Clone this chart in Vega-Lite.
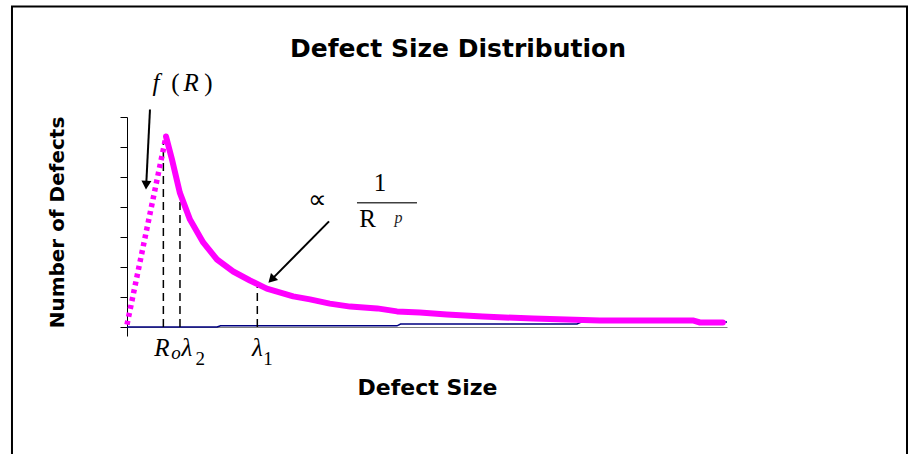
{
  "$schema": "https://vega.github.io/schema/vega-lite/v6.json",
  "width": 600,
  "height": 210,
  "autosize": {"type": "none"},
  "padding": {"left": 127, "top": 117, "right": 182, "bottom": 127},
  "background": "white",
  "title": {
    "text": "Defect Size Distribution",
    "font": "DejaVu Sans",
    "fontSize": 25,
    "fontWeight": "bold",
    "color": "black",
    "anchor": "middle",
    "baseline": "alphabetic",
    "offset": -76,
    "dx": 31
  },
  "config": {"view": {"stroke": null}, "axis": {"grid": false}},
  "datasets": {
    "frame": [{"x": -19.17, "x2": 130, "y": 10.68, "y2": -4.75}],
    "blue": [
      {"x": 0, "y": 0.0},
      {"x": 15, "y": 0.0},
      {"x": 15.6, "y": 0.04},
      {"x": 45, "y": 0.04},
      {"x": 45.6, "y": 0.1},
      {"x": 75, "y": 0.1},
      {"x": 75.8, "y": 0.17},
      {"x": 100, "y": 0.17}
    ],
    "rise": [
      {"x": 0, "y": 0.08},
      {"x": 6.5, "y": 6.35}
    ],
    "decay": [
      {"x": 6.5, "y": 6.35},
      {"x": 7.5, "y": 5.58},
      {"x": 8.8, "y": 4.48},
      {"x": 10.5, "y": 3.58},
      {"x": 12.7, "y": 2.82},
      {"x": 15, "y": 2.25},
      {"x": 17.7, "y": 1.85},
      {"x": 20.5, "y": 1.55},
      {"x": 23.3, "y": 1.28},
      {"x": 27.7, "y": 1.02},
      {"x": 30.5, "y": 0.92},
      {"x": 33.8, "y": 0.78},
      {"x": 37.2, "y": 0.68},
      {"x": 41.7, "y": 0.62},
      {"x": 45, "y": 0.52},
      {"x": 48.8, "y": 0.48},
      {"x": 53.3, "y": 0.42},
      {"x": 59.3, "y": 0.35},
      {"x": 67.7, "y": 0.28},
      {"x": 78.8, "y": 0.22},
      {"x": 94.3, "y": 0.22},
      {"x": 95.5, "y": 0.15},
      {"x": 99.3, "y": 0.15}
    ],
    "marks": [
      {"name": "Ro", "x": 6.06, "y": 0, "y2": 6.15},
      {"name": "lambda2", "x": 8.83, "y": 0, "y2": 4.5},
      {"name": "lambda1", "x": 21.72, "y": 0, "y2": 1.35}
    ],
    "arrows": [
      {"id": "fR", "x": 3.83, "y": 7.25, "x2": 3.2, "y2": 4.73},
      {"id": "power", "x": 33.67, "y": 3.52, "x2": 24.08, "y2": 1.58}
    ],
    "fraction": [{"x": 38.33, "x2": 48.33, "y": 4.14}],
    "notes": [
      {"role": "math", "x": 4.83, "y": 7.88, "t": "f"},
      {"role": "math", "x": 10.67, "y": 7.88, "t": "R"},
      {"role": "math", "x": 5.83, "y": -0.98, "t": "R"},
      {"role": "math", "x": 10.0, "y": -0.98, "t": "λ"},
      {"role": "math", "x": 21.75, "y": -0.98, "t": "λ"},
      {"role": "upright", "x": 8.08, "y": 7.88, "t": "("},
      {"role": "upright", "x": 13.58, "y": 7.88, "t": ")"},
      {"role": "upright", "x": 42.17, "y": 4.52, "t": "1"},
      {"role": "upright", "x": 40.08, "y": 3.35, "t": "R"},
      {"role": "subi", "x": 8.17, "y": -1.05, "t": "o"},
      {"role": "sub", "x": 12.2, "y": -1.25, "t": "2"},
      {"role": "sub", "x": 23.5, "y": -1.25, "t": "1"},
      {"role": "prop", "x": 31.75, "y": 3.98, "t": "∝"},
      {"role": "exp", "x": 45.25, "y": 3.48, "t": "p"}
    ]
  },
  "layer": [
    {
      "data": {"name": "blue"},
      "mark": {"type": "line", "color": "#000080", "strokeWidth": 1.5},
      "encoding": {
        "x": {
          "field": "x",
          "type": "quantitative",
          "scale": {"domain": [0, 100], "nice": false, "zero": false},
          "axis": {
            "values": [0],
            "tickSize": 9,
            "tickColor": "black",
            "labels": false,
            "domainColor": "#808080",
            "title": "Defect Size",
            "titleFont": "DejaVu Sans",
            "titleFontSize": 22,
            "titleFontWeight": "bold",
            "titleColor": "black",
            "titleBaseline": "alphabetic",
            "titleY": 67,
            "grid": false
          }
        },
        "y": {
          "field": "y",
          "type": "quantitative",
          "scale": {"domain": [0, 7], "nice": false},
          "axis": {
            "values": [0, 1, 2, 3, 4, 5, 6, 7],
            "tickCount": 8,
            "tickSize": 7,
            "tickColor": "black",
            "labels": false,
            "domainColor": "black",
            "title": "Number of Defects",
            "titleFont": "DejaVu Sans",
            "titleFontSize": 20,
            "titleFontWeight": "bold",
            "titleColor": "black",
            "titleBaseline": "alphabetic",
            "titleX": -64,
            "titleY": 105,
            "grid": false
          }
        }
      }
    },
    {
      "data": {"name": "frame"},
      "mark": {"type": "rect", "filled": false, "color": "black", "strokeWidth": 2},
      "encoding": {
        "x": {"field": "x", "type": "quantitative"},
        "x2": {"field": "x2"},
        "y": {"field": "y", "type": "quantitative"},
        "y2": {"field": "y2"}
      }
    },
    {
      "data": {"name": "marks"},
      "mark": {"type": "rule", "color": "black", "strokeWidth": 1.5, "strokeDash": [8, 5]},
      "encoding": {
        "x": {"field": "x", "type": "quantitative"},
        "y": {"field": "y", "type": "quantitative"},
        "y2": {"field": "y2"}
      }
    },
    {
      "data": {"name": "rise"},
      "mark": {"type": "line", "color": "#FF00FF", "strokeWidth": 5.5, "strokeDash": [4, 4], "strokeCap": "butt"},
      "encoding": {
        "x": {"field": "x", "type": "quantitative"},
        "y": {"field": "y", "type": "quantitative"}
      }
    },
    {
      "data": {"name": "decay"},
      "mark": {"type": "line", "color": "#FF00FF", "strokeWidth": 6, "strokeCap": "round", "strokeJoin": "round"},
      "encoding": {
        "x": {"field": "x", "type": "quantitative"},
        "y": {"field": "y", "type": "quantitative"}
      }
    },
    {
      "data": {"name": "arrows"},
      "mark": {"type": "rule", "color": "black", "strokeWidth": 2},
      "encoding": {
        "x": {"field": "x", "type": "quantitative"},
        "y": {"field": "y", "type": "quantitative"},
        "x2": {"field": "x2"},
        "y2": {"field": "y2"}
      }
    },
    {
      "data": {"name": "arrows"},
      "transform": [{"filter": "datum.id === 'fR'"}],
      "mark": {"type": "point", "shape": "triangle-up", "filled": true, "color": "black", "size": 100, "angle": 183, "opacity": 1},
      "encoding": {
        "x": {"field": "x2", "type": "quantitative"},
        "y": {"field": "y2", "type": "quantitative"}
      }
    },
    {
      "data": {"name": "arrows"},
      "transform": [{"filter": "datum.id === 'power'"}],
      "mark": {"type": "point", "shape": "triangle-up", "filled": true, "color": "black", "size": 100, "angle": 224.6, "opacity": 1},
      "encoding": {
        "x": {"field": "x2", "type": "quantitative"},
        "y": {"field": "y2", "type": "quantitative"}
      }
    },
    {
      "data": {"name": "fraction"},
      "mark": {"type": "rule", "color": "#404040", "strokeWidth": 1.5},
      "encoding": {
        "x": {"field": "x", "type": "quantitative"},
        "x2": {"field": "x2"},
        "y": {"field": "y", "type": "quantitative"}
      }
    },
    {
      "data": {"name": "notes"},
      "transform": [{"filter": "datum.role === 'math'"}],
      "mark": {"type": "text", "font": "Liberation Serif", "fontSize": 25, "fontStyle": "italic", "align": "center", "baseline": "alphabetic", "color": "black"},
      "encoding": {
        "x": {"field": "x", "type": "quantitative"},
        "y": {"field": "y", "type": "quantitative"},
        "text": {"field": "t"}
      }
    },
    {
      "data": {"name": "notes"},
      "transform": [{"filter": "datum.role === 'upright'"}],
      "mark": {"type": "text", "font": "Liberation Serif", "fontSize": 25, "align": "center", "baseline": "alphabetic", "color": "black"},
      "encoding": {
        "x": {"field": "x", "type": "quantitative"},
        "y": {"field": "y", "type": "quantitative"},
        "text": {"field": "t"}
      }
    },
    {
      "data": {"name": "notes"},
      "transform": [{"filter": "datum.role === 'subi'"}],
      "mark": {"type": "text", "font": "Liberation Serif", "fontSize": 19, "fontStyle": "italic", "align": "center", "baseline": "alphabetic", "color": "black"},
      "encoding": {
        "x": {"field": "x", "type": "quantitative"},
        "y": {"field": "y", "type": "quantitative"},
        "text": {"field": "t"}
      }
    },
    {
      "data": {"name": "notes"},
      "transform": [{"filter": "datum.role === 'sub'"}],
      "mark": {"type": "text", "font": "Liberation Serif", "fontSize": 19, "align": "center", "baseline": "alphabetic", "color": "black"},
      "encoding": {
        "x": {"field": "x", "type": "quantitative"},
        "y": {"field": "y", "type": "quantitative"},
        "text": {"field": "t"}
      }
    },
    {
      "data": {"name": "notes"},
      "transform": [{"filter": "datum.role === 'prop'"}],
      "mark": {"type": "text", "font": "Liberation Serif", "fontSize": 26, "align": "center", "baseline": "alphabetic", "color": "black"},
      "encoding": {
        "x": {"field": "x", "type": "quantitative"},
        "y": {"field": "y", "type": "quantitative"},
        "text": {"field": "t"}
      }
    },
    {
      "data": {"name": "notes"},
      "transform": [{"filter": "datum.role === 'exp'"}],
      "mark": {"type": "text", "font": "Liberation Serif", "fontSize": 16, "fontStyle": "italic", "align": "center", "baseline": "alphabetic", "color": "#222222"},
      "encoding": {
        "x": {"field": "x", "type": "quantitative"},
        "y": {"field": "y", "type": "quantitative"},
        "text": {"field": "t"}
      }
    }
  ]
}
